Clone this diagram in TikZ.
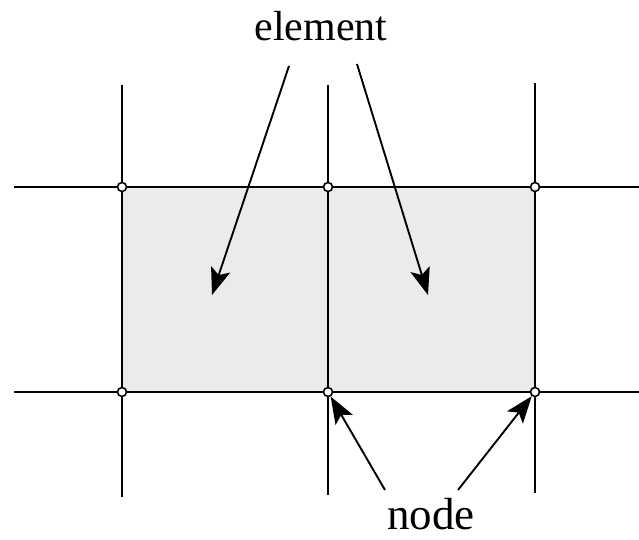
\documentclass[tikz,border=0pt]{standalone}
\usepackage{fontspec}
\setmainfont{Liberation Serif}
\usetikzlibrary{arrows.meta}
\begin{document}
\begin{tikzpicture}[x=1pt,y=-1pt,
  gridline/.style={line width=2.4pt,black},
  pt/.style={circle,draw=black,fill=white,line width=1.6pt,inner sep=0pt,minimum size=9pt},
  pointer/.style={line width=1.9pt,-{Stealth[length=27pt,width=20pt,inset=6pt]}},
  elemfill/.style={fill=black!8,draw=none}]
\useasboundingbox (0,0) rectangle (639,540);
\fill[white] (0,0) rectangle (639,540);
% elements
\path[elemfill] (122,187) rectangle (535,392);
% grid lines
\coordinate (v1t) at (122,85);  \coordinate (v1b) at (122,497);
\coordinate (v2t) at (328,85);  \coordinate (v2b) at (328,495);
\coordinate (v3t) at (535,83);  \coordinate (v3b) at (535,493);
\coordinate (h1l) at (14,187);  \coordinate (h1r) at (639,187);
\coordinate (h2l) at (14,392);  \coordinate (h2r) at (639,392);
\draw[gridline] (v1t) -- (v1b);
\draw[gridline] (v2t) -- (v2b);
\draw[gridline] (v3t) -- (v3b);
\draw[gridline] (h1l) -- (h1r);
\draw[gridline] (h2l) -- (h2r);
% nodes (points)
\node[pt] (n11) at (122,187) {};
\node[pt] (n12) at (328,187) {};
\node[pt] (n13) at (535,187) {};
\node[pt] (n21) at (122,392) {};
\node[pt] (n22) at (328,392) {};
\node[pt] (n23) at (535,392) {};
% labels
\node[font=\fontsize{42}{48}\selectfont,anchor=base] (elem) at (321,41) {element};
\node[font=\fontsize{45}{50}\selectfont,anchor=base,inner ysep=1pt] (nodelbl) at (431,529) {node};
\coordinate (e1) at (212,295);
\coordinate (e2) at (428,295);
\draw[pointer] (289,66) -- (e1);
\draw[pointer] (357,64) -- (e2);
\draw[pointer] (385,490) -- (n22);
\draw[pointer] (458,490) -- (n23);
\end{tikzpicture}
\end{document}
